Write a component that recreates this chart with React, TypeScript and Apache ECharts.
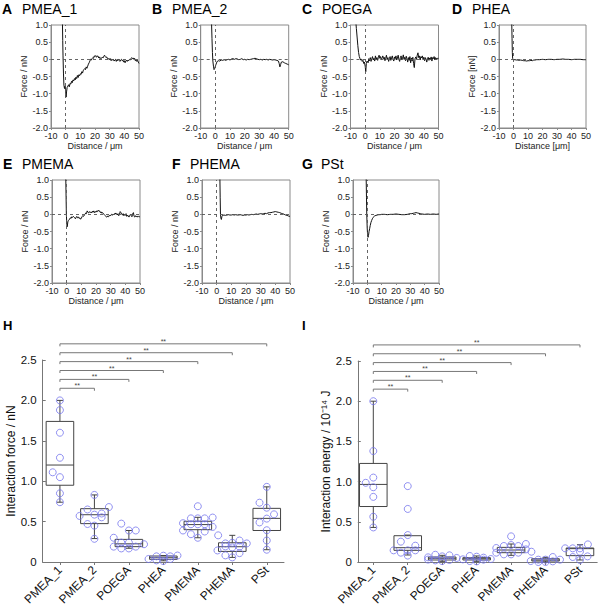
import React, { useEffect, useRef } from 'react';
import * as echarts from 'echarts';

const FONT = '"Liberation Sans", Arial, Helvetica, sans-serif';

// ---------- Top panels: force–distance curves ----------
const panelLetters = ['A', 'B', 'C', 'D', 'E', 'F', 'G'];
const panelNames = ['PMEA_1', 'PMEA_2', 'POEGA', 'PHEA', 'PMEMA', 'PHEMA', 'PSt'];
const panelXNames = ['Distance / μm', 'Distance / μm', 'Distance / μm', 'Distance [μm]', 'Distance / μm', 'Distance / μm', 'Distance / μm'];
const panelYNames = ['Force / nN', 'Force / nN', 'Force / nN', 'Force [nN]', 'Force / nN', 'Force / nN', 'Force / nN'];
const distTicks = { min: -10, max: 50, step: 10 };
const forceTicks = { min: -2, max: 1, step: 0.5 };

const curvePMEA1 = [[-2.2,1.05],[-2.0,0.55],[-1.8,0.1],[-1.5,-0.4],[-1.2,-0.75],[-0.8,-0.85],[-0.4,-0.78],[0,-0.92],[0.3,-1.1],[0.6,-0.95],[1,-0.82],[1.5,-0.78],[2,-0.74],[2.5,-0.8],[3,-0.7],[3.5,-0.72],[4,-0.64],[4.5,-0.68],[5,-0.6],[5.5,-0.63],[6,-0.56],[6.5,-0.6],[7,-0.52],[7.5,-0.56],[8,-0.47],[8.5,-0.53],[9,-0.45],[9.5,-0.48],[10,-0.42],[10.5,-0.44],[11,-0.36],[11.5,-0.4],[12,-0.32],[12.5,-0.3],[13,-0.27],[13.5,-0.3],[14,-0.22],[14.5,-0.26],[15,-0.2],[15.5,-0.14],[16,-0.1],[16.5,-0.05],[17,0.0],[17.5,-0.02],[18,0.02],[18.5,0.05],[19,0.03],[19.5,0.1],[20,0.08],[20.5,0.11],[21,0.06],[21.5,0.09],[22,0.1],[22.5,0.04],[23,0.07],[23.5,0.02],[24,0.05],[24.5,0.03],[25,0.06],[25.5,0.04],[26,0.09],[26.5,0.12],[27,0.08],[27.5,0.05],[28,0.07],[28.5,0.02],[29,0.0],[29.5,0.03],[30,-0.01],[30.5,0.02],[31,-0.04],[31.5,0.0],[32,-0.02],[32.5,0.01],[33,-0.05],[33.5,-0.02],[34,0.0],[34.5,-0.06],[35,-0.01],[35.5,-0.04],[36,0.01],[36.5,-0.03],[37,-0.06],[37.5,-0.02],[38,0.0],[38.5,-0.04],[39,-0.02],[39.5,-0.08],[40,-0.04],[40.5,-0.1],[41,-0.05],[41.5,-0.02],[42,-0.06],[42.5,-0.02],[43,-0.04],[43.5,0.0],[44,-0.02],[44.5,0.02],[45,0.05],[45.5,0.02],[46,0.04],[46.5,0.0],[47,0.03],[47.5,-0.04],[48,-0.02],[48.5,-0.06],[49,-0.03],[49.5,-0.08],[50,-0.12]];

const curvePMEA2 = [[-2.6,1.05],[-2.3,0.6],[-2.0,0.2],[-1.7,-0.05],[-1.3,-0.2],[-0.9,-0.3],[-0.5,-0.27],[0,-0.2],[0.5,-0.14],[1,-0.08],[1.5,-0.05],[2,-0.04],[3,-0.05],[4,-0.02],[5,-0.03],[6,-0.01],[7,-0.03],[8,-0.01],[9,0.0],[10,-0.02],[11,0.01],[12,0.02],[13,0.0],[14,0.02],[15,0.01],[16,-0.01],[17,0.0],[18,0.02],[19,-0.01],[20,0.0],[21,-0.02],[22,0.0],[23,-0.01],[24,0.0],[25,0.01],[26,0.02],[27,0.03],[28,0.02],[29,0.0],[30,-0.01],[31,0.0],[32,-0.02],[33,0.0],[34,-0.01],[35,0.0],[36,-0.02],[37,0.0],[38,-0.01],[39,-0.02],[40,-0.01],[41,-0.02],[42,-0.03],[43,-0.05],[43.5,-0.12],[44,-0.22],[44.5,-0.15],[45,-0.08],[46,-0.07],[47,-0.1],[48,-0.12],[49,-0.14],[50,-0.16]];

const curvePOEGA = [[-6.3,1.05],[-6,0.9],[-5.5,0.65],[-5,0.4],[-4.5,0.2],[-4,0.08],[-3.5,0.02],[-3,-0.02],[-2.5,0.0],[-2,-0.06],[-1.5,-0.03],[-1,-0.12],[-0.5,-0.08],[0,-0.2],[0.4,-0.36],[0.8,-0.12],[1.3,-0.05],[2,-0.1],[2.5,0.02],[3,-0.04],[3.5,0.05],[4,-0.06],[4.5,0.02],[5,0.08],[5.5,-0.02],[6,0.03],[6.5,-0.05],[7,0.1],[7.5,0.0],[8,0.05],[8.5,-0.03],[9,0.06],[9.5,0.12],[10,0.03],[10.5,0.08],[11,-0.02],[11.5,0.04],[12,0.1],[12.5,0.02],[13,0.06],[13.5,-0.04],[14,0.03],[14.5,0.12],[15,0.0],[15.5,0.05],[16,-0.06],[16.5,0.02],[17,0.08],[17.5,-0.03],[18,0.04],[18.5,0.1],[19,0.0],[19.5,-0.05],[20,0.07],[20.5,0.02],[21,0.1],[21.5,-0.02],[22,0.04],[22.5,0.12],[23,0.0],[23.5,-0.06],[24,0.05],[24.5,0.1],[25,-0.02],[25.5,0.03],[26,0.13],[26.5,0.0],[27,0.06],[27.5,-0.04],[28,0.09],[28.5,0.02],[29,-0.08],[29.5,0.05],[30,-0.03],[30.5,0.08],[31,-0.1],[31.5,0.04],[32,-0.05],[32.5,0.06],[33,-0.12],[33.5,-0.24],[34,0.02],[34.5,0.07],[35,0.0],[35.5,0.12],[36,0.19],[36.5,0.05],[37,0.1],[37.5,-0.02],[38,0.08],[38.5,0.04],[39,0.1],[39.5,0.0],[40,0.06],[40.5,-0.04],[41,0.05],[41.5,0.0],[42,-0.08],[42.5,0.03],[43,0.06],[43.5,-0.03],[44,0.04],[44.5,0.0],[45,0.07],[45.5,-0.05],[46,0.05],[46.5,0.02],[47,0.08],[47.5,-0.02],[48,0.05],[48.5,0.0],[49,0.04],[49.5,0.02],[50,0.03]];

const curvePHEA = [[-1.2,1.05],[-1.0,0.6],[-0.8,0.2],[-0.6,0.03],[-0.3,-0.01],[0,0.0],[1,-0.01],[2,-0.02],[3,-0.02],[4,-0.03],[5,-0.02],[6,-0.03],[7,-0.04],[8,-0.04],[9,-0.05],[10,-0.04],[11,-0.04],[12,-0.03],[13,-0.04],[14,-0.02],[15,-0.02],[16,-0.01],[18,-0.01],[20,0.0],[22,-0.01],[24,0.0],[26,0.0],[28,-0.01],[30,0.0],[32,0.0],[34,0.01],[36,0.0],[38,0.0],[40,-0.01],[42,0.0],[44,0.0],[46,0.0],[48,-0.01],[50,-0.01]];

const curvePMEMA = [[-0.6,1.05],[-0.4,0.5],[-0.2,0.0],[0.1,-0.3],[0.4,-0.36],[0.8,-0.22],[1.2,-0.18],[2,-0.14],[2.5,-0.1],[3,-0.12],[3.5,-0.07],[4,-0.09],[4.5,-0.06],[5,-0.08],[5.5,-0.1],[6,-0.13],[6.5,-0.08],[7,-0.06],[7.5,-0.1],[8,-0.08],[8.5,-0.12],[9,-0.1],[9.5,-0.14],[10,-0.12],[10.5,-0.06],[11,-0.04],[11.5,-0.06],[12,-0.02],[12.5,0.0],[13,0.04],[13.5,0.02],[14,0.1],[14.5,0.06],[15,0.04],[15.5,0.08],[16,0.05],[16.5,0.07],[17,0.04],[17.5,0.09],[18,0.06],[18.5,0.1],[19,0.05],[19.5,0.08],[20,0.06],[20.5,0.1],[21,0.08],[21.5,0.12],[22,0.09],[22.5,0.1],[23,0.05],[23.5,0.07],[24,0.03],[24.5,0.05],[25,0.02],[25.5,0.0],[26,-0.03],[26.5,-0.05],[27,-0.07],[27.5,-0.08],[28,-0.05],[28.5,-0.07],[29,-0.03],[29.5,-0.05],[30,-0.02],[30.5,0.0],[31,-0.03],[31.5,0.01],[32,-0.02],[32.5,0.02],[33,0.0],[33.5,0.04],[34,0.01],[34.5,-0.02],[35,0.02],[35.5,-0.04],[36,0.0],[36.5,0.08],[37,0.05],[37.5,0.0],[38,-0.02],[38.5,0.02],[39,-0.04],[39.5,0.0],[40,-0.03],[40.5,0.02],[41,-0.06],[41.5,-0.02],[42,-0.05],[42.5,-0.08],[43,-0.03],[43.5,0.0],[44,-0.04],[44.5,-0.07],[45,0.02],[45.5,0.05],[46,-0.06],[46.5,-0.08],[47,-0.04],[47.5,-0.07],[48,-0.05],[48.5,-0.08],[49,-0.06],[49.5,-0.07],[50,-0.07]];

const curvePHEMA = [[2.2,1.05],[2.4,0.5],[2.6,0.0],[2.9,-0.12],[3.2,-0.15],[3.6,-0.06],[4,-0.03],[5,-0.02],[6,-0.03],[7,-0.02],[8,-0.01],[9,-0.02],[10,-0.02],[11,-0.01],[12,-0.02],[13,-0.01],[14,-0.02],[15,-0.02],[16,-0.01],[17,-0.02],[18,-0.03],[19,-0.02],[20,-0.02],[21,-0.01],[22,-0.02],[23,-0.01],[24,0.0],[25,-0.01],[26,0.0],[27,0.01],[28,0.0],[29,0.01],[30,0.02],[31,0.01],[32,0.02],[33,0.03],[34,0.02],[35,0.04],[36,0.05],[37,0.05],[38,0.06],[39,0.07],[40,0.08],[41,0.07],[42,0.06],[43,0.05],[44,0.03],[45,0.02],[46,0.0],[47,-0.02],[48,-0.03],[49,-0.05],[50,-0.06]];

const curvePSt = [[-0.8,1.05],[-0.6,0.5],[-0.4,0.0],[-0.1,-0.4],[0.2,-0.6],[0.5,-0.67],[0.8,-0.62],[1.2,-0.5],[1.6,-0.42],[2,-0.33],[2.5,-0.24],[3,-0.18],[3.5,-0.13],[4,-0.09],[4.5,-0.07],[5,-0.05],[6,-0.03],[7,-0.02],[8,-0.01],[9,-0.01],[10,0.0],[12,0.0],[14,-0.01],[16,0.0],[18,0.0],[20,0.01],[22,0.0],[24,-0.01],[26,-0.01],[28,0.0],[30,0.02],[31,0.02],[32,0.03],[33,0.04],[34,0.05],[35,0.04],[36,0.03],[37,0.02],[38,0.01],[40,0.0],[42,0.01],[44,0.0],[46,0.01],[48,0.0],[50,0.01]];

const curves = [curvePMEA1, curvePMEA2, curvePOEGA, curvePHEA, curvePMEMA, curvePHEMA, curvePSt];

// ---------- Bottom panels: box plots ----------
const categories = ['PMEA_1', 'PMEA_2', 'POEGA', 'PHEA', 'PMEMA', 'PHEMA', 'PSt'];
const categoryPositions = [1, 2, 3, 4, 5, 6, 7];
const boxTicks = { min: 0, max: 2.5, step: 0.5 };

// [min, Q1, median, Q3, max]
const forceBox = [
  [0.74, 0.95, 1.2, 1.74, 2.0],
  [0.29, 0.475, 0.585, 0.66, 0.83],
  [0.17, 0.19, 0.225, 0.28, 0.39],
  [0.015, 0.033, 0.053, 0.074, 0.08],
  [0.3, 0.4, 0.463, 0.504, 0.553],
  [0.057, 0.131, 0.189, 0.238, 0.33],
  [0.152, 0.39, 0.54, 0.664, 0.93],
];
const forcePoints = [
  [1,2.0],[1,1.88],[1,1.6],[1,1.29],[0.79,1.11],[1,1.05],[1,0.85],[1,0.74],
  [2,0.83],[2.42,0.68],[1.8,0.65],[1.57,0.57],[2,0.586],[2.21,0.6],[2.21,0.553],[1.8,0.47],[2,0.45],[2,0.287],
  [2.78,0.475],[3,0.39],[3.2,0.39],[2.56,0.3],[2.78,0.24],[3,0.24],[2.56,0.19],[2.78,0.168],[3,0.168],[3.2,0.19],[3.44,0.22],
  [3.57,0.037],[3.8,0.07],[4,0.078],[4.2,0.07],[4.41,0.08],[3.8,0.02],[4,0.012],[4.2,0.037],
  [5,0.69],[5.43,0.55],[4.8,0.54],[5,0.54],[5.2,0.54],[4.57,0.48],[4.8,0.467],[5,0.467],[5.2,0.467],[5.43,0.434],[4.57,0.39],[4.8,0.344],[5,0.3],[5.2,0.377],
  [5.59,0.33],[5.8,0.23],[6,0.238],[6.21,0.266],[6.42,0.23],[5.8,0.193],[6,0.18],[6.21,0.189],[5.57,0.143],[5.8,0.082],[6,0.057],[6.21,0.11],
  [7,0.93],[6.79,0.734],[7,0.672],[7.21,0.59],[7,0.537],[6.79,0.49],[7,0.393],[7,0.266],[7,0.152],
];

const energyBox = [
  [0.43, 0.69, 0.965, 1.226, 2.0],
  [0.087, 0.145, 0.178, 0.327, 0.335],
  [0.004, 0.025, 0.046, 0.062, 0.083],
  [0.004, 0.025, 0.041, 0.054, 0.075],
  [0.083, 0.116, 0.149, 0.182, 0.224],
  [0.0, 0.012, 0.025, 0.041, 0.058],
  [0.025, 0.079, 0.166, 0.174, 0.215],
];
const energyPoints = [
  [1,2.0],[1,1.38],[1,1.05],[0.78,0.985],[1,0.93],[1,0.81],[1,0.563],[1,0.43],
  [2,0.944],[2,0.66],[2,0.335],[1.8,0.253],[2.22,0.203],[1.59,0.145],[1.8,0.116],[2,0.145],[2.22,0.145],[2,0.08],
  [2.59,0.058],[2.8,0.09],[3,0.07],[3.21,0.083],[3.42,0.05],[2.8,0.02],[3,0.012],[3.21,0.025],[2.59,0.03],
  [3.6,0.033],[3.8,0.075],[4,0.066],[4.2,0.054],[4.41,0.037],[3.8,0.012],[4,0.008],[4.2,0.029],
  [5,0.319],[4.79,0.199],[5,0.211],[5.21,0.199],[5.43,0.224],[4.57,0.174],[4.57,0.116],[4.79,0.095],[5,0.095],[5.21,0.116],[5.43,0.157],[5.59,0.128],
  [5.57,0.012],[5.79,0.029],[6,0.029],[6.21,0.062],[6.42,0.029],[5.79,0.0],[6,0.0],[6.21,0.008],
  [6.57,0.17],[6.79,0.062],[7,0.17],[7.23,0.219],[7,0.128],[7,0.025],[7.22,0.07],[6.79,0.17],
];

// significance brackets from PMEA_1 (position 1) to each target
const bracketTargets = [2, 3, 4, 5, 6, 7];
const bracketLevels = [2.15, 2.26, 2.37, 2.48, 2.59, 2.7];
const bracketLabel = '**';

// ---------- layout (positions, not data) ----------
const topLayout = [
  { left: 51, top: 25, width: 88, lx: 2, nx: 22, ty: 8.5 },
  { left: 200.7, top: 25, width: 88, lx: 152, nx: 172, ty: 8.5 },
  { left: 350.5, top: 25, width: 88, lx: 302, nx: 322, ty: 8.5 },
  { left: 499, top: 25, width: 87, lx: 452, nx: 472, ty: 8.5 },
  { left: 52, top: 180, width: 88, lx: 3, nx: 22, ty: 164 },
  { left: 202, top: 180, width: 88, lx: 172, nx: 190, ty: 164 },
  { left: 353, top: 180, width: 86, lx: 302, nx: 321, ty: 164 },
];
const TOP_H = 103;

const fmt = (v: number) => (v === 0 ? '0' : v.toFixed(1));

function buildOption() {
  const grid: any[] = [];
  const xAxis: any[] = [];
  const yAxis: any[] = [];
  const series: any[] = [];
  const graphic: any[] = [];
  const axisGray = '#8a8a8a';

  curves.forEach((data, i) => {
    const L = topLayout[i];
    grid.push({ left: L.left, top: L.top, width: L.width, height: TOP_H, show: true, borderColor: axisGray, borderWidth: 1, backgroundColor: 'transparent', outerBoundsMode: 'none' });
    xAxis.push({
      gridIndex: i, type: 'value', min: distTicks.min, max: distTicks.max, interval: distTicks.step,
      name: panelXNames[i], nameLocation: 'middle', nameGap: 13,
      nameTextStyle: { fontSize: 9, color: '#222', fontFamily: FONT },
      axisLine: { show: true, onZero: false, lineStyle: { color: axisGray, width: 1 } },
      axisTick: { show: true, length: 2, lineStyle: { color: axisGray } },
      axisLabel: { fontSize: 9, color: '#222', margin: 3, fontFamily: FONT },
      splitLine: { show: false },
    });
    yAxis.push({
      gridIndex: i, type: 'value', min: forceTicks.min, max: forceTicks.max, interval: forceTicks.step,
      name: panelYNames[i], nameLocation: 'middle', nameGap: 21, nameRotate: 90,
      nameTextStyle: { fontSize: 9, color: '#222', fontFamily: FONT },
      axisLine: { show: true, onZero: false, lineStyle: { color: axisGray, width: 1 } },
      axisTick: { show: true, length: 2, lineStyle: { color: axisGray } },
      axisLabel: { fontSize: 9, color: '#222', margin: 3, formatter: fmt, fontFamily: FONT },
      splitLine: { show: false },
    });
    series.push({
      type: 'line', xAxisIndex: i, yAxisIndex: i, data, symbol: 'none', showSymbol: false,
      lineStyle: { color: '#111', width: 1 }, clip: true, z: 3,
      markLine: {
        silent: true, symbol: ['none', 'none'], label: { show: false },
        lineStyle: { type: [3, 3], color: '#555', width: 0.9 },
        data: [{ yAxis: 0 }, { xAxis: 0 }],
      },
    });
    graphic.push({ type: 'text', x: L.lx, y: L.ty, style: { text: panelLetters[i], fontSize: 14, fontWeight: 'bold', fontFamily: FONT, fill: '#000', verticalAlign: 'middle' } });
    graphic.push({ type: 'text', x: L.nx, y: L.ty, style: { text: panelNames[i], fontSize: 14, fontFamily: FONT, fill: '#000', verticalAlign: 'middle' } });
  });

  const boxRender = (params: any, api: any) => {
    const x = api.value(0);
    const lo = api.value(1), q1 = api.value(2), md = api.value(3), q3 = api.value(4), hi = api.value(5);
    const c = (v: number) => api.coord([x, v]);
    const cx = c(q1)[0];
    const hw = api.coord([x + 0.4, q1])[0] - cx;
    const yq1 = c(q1)[1], yq3 = c(q3)[1], ymd = c(md)[1], ylo = c(lo)[1], yhi = c(hi)[1];
    const st = { stroke: '#444', lineWidth: 1, fill: 'none' };
    const cap = 3;
    return {
      type: 'group',
      children: [
        { type: 'line', shape: { x1: cx, y1: yq3, x2: cx, y2: yhi }, style: st },
        { type: 'line', shape: { x1: cx, y1: yq1, x2: cx, y2: ylo }, style: st },
        { type: 'line', shape: { x1: cx - cap, y1: yhi, x2: cx + cap, y2: yhi }, style: st },
        { type: 'line', shape: { x1: cx - cap, y1: ylo, x2: cx + cap, y2: ylo }, style: st },
        { type: 'rect', shape: { x: cx - hw, y: yq3, width: 2 * hw, height: Math.max(yq1 - yq3, 0.5) }, style: st },
        { type: 'line', shape: { x1: cx - hw, y1: ymd, x2: cx + hw, y2: ymd }, style: st },
      ],
    };
  };

  const bracketRender = (params: any, api: any) => {
    const k = api.value(0), lv = api.value(1);
    const a = api.coord([1, lv]);
    const b = api.coord([k, lv]);
    const st = { stroke: '#777', lineWidth: 1, fill: 'none' };
    return {
      type: 'group',
      children: [
        { type: 'line', shape: { x1: a[0], y1: a[1], x2: b[0], y2: b[1] }, style: st },
        { type: 'line', shape: { x1: a[0], y1: a[1], x2: a[0], y2: a[1] + 2.5 }, style: st },
        { type: 'line', shape: { x1: b[0], y1: b[1], x2: b[0], y2: b[1] + 2.5 }, style: st },
        { type: 'text', x: (a[0] + b[0]) / 2, y: a[1] + 1, style: { text: bracketLabel, fontSize: 7, fontFamily: FONT, fill: '#444', align: 'center', verticalAlign: 'bottom' } },
      ],
    };
  };

  const bottom = [
    { left: 42.7, top: 360, width: 241.3, height: 202, xmin: 0.5, name: 'Interaction force / nN', box: forceBox, pts: forcePoints, letter: 'H', lx: 3 },
    { left: 357.8, top: 361, width: 239.4, height: 201, xmin: 0.55, name: 'Interaction energy / 10⁻¹⁴ J', box: energyBox, pts: energyPoints, letter: 'I', lx: 302 },
  ];

  bottom.forEach((B, j) => {
    const gi = 7 + j;
    grid.push({ left: B.left, top: B.top, width: B.width, height: B.height, show: false, outerBoundsMode: 'none' });
    xAxis.push({
      gridIndex: gi, type: 'value', min: B.xmin, max: 7.5,
      axisLine: { show: true, onZero: false, lineStyle: { color: '#777', width: 1 } },
      axisTick: { show: true, length: 3, customValues: categoryPositions, lineStyle: { color: '#777' } },
      axisLabel: {
        customValues: categoryPositions, rotate: 45, fontSize: 12, color: '#111', margin: 6, fontFamily: FONT,
        formatter: (v: number) => categories[Math.round(v) - 1] || '',
      },
      splitLine: { show: false },
    });
    yAxis.push({
      gridIndex: gi, type: 'value', min: boxTicks.min, max: boxTicks.max, interval: boxTicks.step,
      name: B.name, nameLocation: 'middle', nameGap: 25, nameRotate: 90,
      nameTextStyle: { fontSize: 12, color: '#111', fontFamily: FONT },
      axisLine: { show: true, onZero: false, lineStyle: { color: '#777', width: 1 } },
      axisTick: { show: true, inside: true, length: 3, lineStyle: { color: '#777' } },
      axisLabel: { fontSize: 11.5, color: '#111', margin: 6, formatter: fmt, fontFamily: FONT },
      splitLine: { show: false },
    });
    series.push({
      type: 'custom', xAxisIndex: gi, yAxisIndex: gi, renderItem: boxRender, clip: false, z: 2,
      encode: { x: 0, y: [1, 2, 3, 4, 5] },
      data: B.box.map((b, i) => [categoryPositions[i], ...b]),
    });
    series.push({
      type: 'scatter', xAxisIndex: gi, yAxisIndex: gi, data: B.pts, symbol: 'circle', symbolSize: 7, z: 4,
      itemStyle: { color: 'rgba(0,0,0,0)', borderColor: '#7676ee', borderWidth: 1 },
    });
    series.push({
      type: 'custom', xAxisIndex: gi, yAxisIndex: gi, renderItem: bracketRender, clip: false, z: 2,
      encode: { x: 0, y: 1 },
      data: bracketTargets.map((k, i) => [k, bracketLevels[i]]),
    });
    graphic.push({ type: 'text', x: B.lx, y: 325, style: { text: B.letter, fontSize: 13, fontWeight: 'bold', fontFamily: FONT, fill: '#000', verticalAlign: 'middle' } });
  });

  return {
    animation: false,
    backgroundColor: '#fff',
    textStyle: { fontFamily: FONT },
    grid, xAxis, yAxis, series, graphic,
  };
}

export default function App() {
  const ref = useRef<HTMLDivElement>(null);
  useEffect(() => {
    if (!ref.current) return;
    const chart = echarts.init(ref.current, null, { renderer: 'svg' });
    chart.setOption(buildOption() as any);
    return () => chart.dispose();
  }, []);
  return <div ref={ref} style={{ position: 'fixed', left: 0, top: 0, width: 600, height: 609, background: '#fff' }} />;
}
